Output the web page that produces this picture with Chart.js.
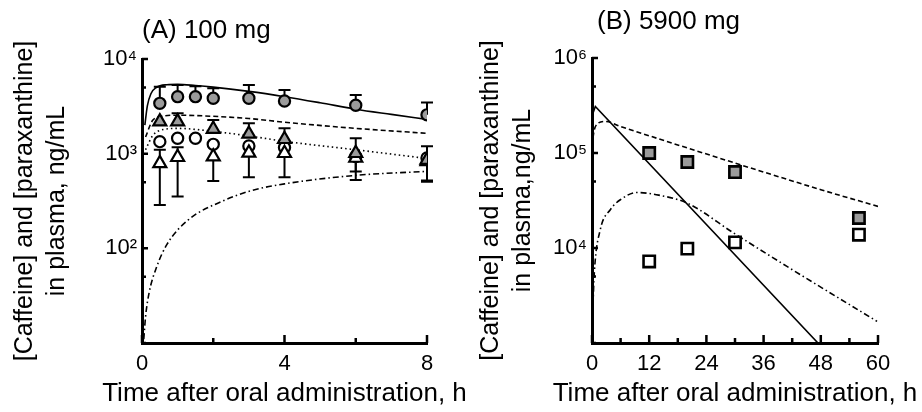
<!DOCTYPE html>
<html>
<head>
<meta charset="utf-8">
<script src="https://cdn.jsdelivr.net/npm/chart.js@4.4.0/dist/chart.umd.min.js"></script>
<style>
  html, body { margin: 0; padding: 0; background: #fff; }
  #wrap { position: relative; width: 922px; height: 412px; overflow: hidden; }
  .panel { position: absolute; top: 0; height: 412px; }
</style>
</head>
<body>
<div id="wrap">
  <div class="panel" style="left:0;width:490px"><canvas id="chartA" width="490" height="412"></canvas></div>
  <div class="panel" style="left:461px;width:461px"><canvas id="chartB" width="461" height="412"></canvas></div>
</div>
<script>
/* ============================================================
   Data - (A) 100 mg
   ============================================================ */
const timesA = [0.5, 1, 1.5, 2, 3, 4, 6, 8];

const grayCircA      = [3400, 4000, 4000, 3850, 3850, 3600, 3250, 2570];
const grayCircAHi    = [5100, 5300, 5150, 4900, 5300, 4700, 4170, 3470];
const openCircA      = [1340, 1455, 1455, 1255, 1205, 1165, 935, 900];
const openCircALo    = [null, null, null, null, null, null, 650, 520];
const grayTriA       = [2180, 2180, null, 1820, 1615, 1420, 1010, 857];
const grayTriAHi     = [null, 2670, null, 2270, 2090, 1850, 1455, 1200];
const openTriA       = [790, 916, null, 930, 1020, 1010, 900, 830];
const openTriAHi     = [1100, 1170, null, null, null, null, null, null];
const openTriALo     = [287, 352, null, 515, 563, 563, 527, 506];

// model curves
const solidAX   = [0.08, 0.15, 0.25, 0.4, 0.7, 1, 1.5, 2, 3, 4, 5, 6, 7, 8];
const solidAY   = [2000, 3200, 4300, 5000, 5350, 5400, 5250, 5050, 4550, 4000, 3450, 2950, 2600, 2300];
const dashAX    = [0.1, 0.3, 0.6, 1, 2, 3, 4, 6, 8];
const dashAY    = [1500, 2250, 2500, 2550, 2480, 2350, 2150, 1850, 1640];
const dotAX     = [0.1, 0.3, 0.6, 1, 2, 3, 4, 6, 8];
const dotAY     = [1100, 1550, 1800, 1850, 1720, 1540, 1350, 1100, 890];
const dashDotAX = [0.05, 0.1, 0.2, 0.4, 0.7, 1.3, 2.3, 3.1, 4, 6, 8];
const dashDotAY = [11, 19, 34, 62, 110, 200, 320, 410, 480, 590, 650];

const xTicksA  = [0, 2, 4, 6, 8];
const xLabelsA = [0, 4, 8];
const yTicksA  = [10, 50, 100, 500, 1000, 5000, 10000];
const yLabelsA = [100, 1000, 10000];

/* ============================================================
   Data - (B) 5900 mg
   ============================================================ */
const timesB   = [12, 20, 30, 56];
const graySqB  = [100000, 80400, 63000, 20700];
const openSqB  = [7220, 9840, 11460, 13800];

const solidBX   = [0.05, 0.7, 47.4];
const solidBY   = [250000, 309000, 1000];
const dashBX    = [0.05, 0.35, 1, 2.8, 6, 20, 48, 60];
const dashBY    = [120000, 162000, 200000, 215000, 190000, 113000, 41100, 27400];
const dashDotBX = [0.2, 0.48, 1.74, 3.84, 5.94, 9.44, 14, 19.9, 29.7, 40.9, 59.8];
const dashDotBY = [2500, 5450, 15600, 25300, 32200, 38400, 36000, 29800, 14400, 6400, 1690];

const xTicksB  = [0, 6, 12, 18, 24, 30, 36, 42, 48, 54, 60];
const xLabelsB = [0, 12, 24, 36, 48, 60];
const yTicksB  = [1000, 5000, 10000, 50000, 100000, 500000, 1000000];
const yLabelsB = [10000, 100000, 1000000];

/* ============================================================
   Helpers
   ============================================================ */
const FONT = "'Liberation Sans', Arial, Helvetica, sans-serif";
const GRAY = '#9b9b9b';
const SUP = { 1: '¹', 2: '²', 3: '³', 4: '⁴', 5: '⁵', 6: '⁶' };

function toPoints(xs, ys, hi, lo) {
    const pts = [];
    xs.forEach((x, i) => {
        if (ys[i] == null) return;
        pts.push({ x: x, y: ys[i], hi: hi ? hi[i] : null, lo: lo ? lo[i] : null });
    });
    return pts;
}

function powLabel(v) {
    return '10' + SUP[Math.round(Math.log10(v))];
}

// error bars drawn under the markers
const errorBars = {
    id: 'errorBars',
    beforeDatasetsDraw(chart) {
        const { ctx, scales: { x, y } } = chart;
        ctx.save();
        ctx.strokeStyle = '#000';
        ctx.lineWidth = 2;
        chart.data.datasets.forEach(ds => {
            ds.data.forEach(p => {
                if (p.hi == null && p.lo == null) return;
                const px = x.getPixelForValue(p.x);
                const py = y.getPixelForValue(p.y);
                [p.hi, p.lo].forEach(v => {
                    if (v == null) return;
                    const ey = y.getPixelForValue(v);
                    ctx.beginPath();
                    ctx.moveTo(px, py);
                    ctx.lineTo(px, ey);
                    ctx.moveTo(px - 6, ey);
                    ctx.lineTo(px + 6, ey);
                    ctx.stroke();
                });
            });
        });
        ctx.restore();
    }
};

// inward tick marks
const innerTicks = {
    id: 'innerTicks',
    afterDraw(chart, args, opts) {
        const { ctx, chartArea: a, scales: { x, y } } = chart;
        ctx.save();
        ctx.strokeStyle = '#000';
        ctx.lineWidth = 2.5;
        ctx.beginPath();
        x.ticks.forEach(t => {
            const px = x.getPixelForValue(t.value);
            const len = opts.xMajor.includes(t.value) ? 8 : 5;
            ctx.moveTo(px, a.bottom);
            ctx.lineTo(px, a.bottom - len);
        });
        y.ticks.forEach(t => {
            const py = y.getPixelForValue(t.value);
            const len = opts.yMajor.includes(t.value) ? 6 : 4;
            ctx.moveTo(a.left, py);
            ctx.lineTo(a.left + len, py);
        });
        ctx.stroke();
        ctx.restore();
    }
};

// panel heading and axis titles (drawn without width squeezing)
const panelText = {
    id: 'panelText',
    afterDraw(chart, args, opts) {
        const { ctx, chartArea: a } = chart;
        ctx.save();
        ctx.fillStyle = '#000';
        ctx.textBaseline = 'middle';

        ctx.textAlign = 'left';
        ctx.font = '26px ' + FONT;
        ctx.fillText(opts.title, a.left + opts.titleDx, opts.titleY);

        ctx.textAlign = 'center';
        ctx.font = '26px ' + FONT;
        ctx.fillText(opts.xTitle, (a.left + a.right) / 2, opts.xTitleY);

        ctx.font = '25px ' + FONT;
        const cy = (a.top + a.bottom) / 2;
        opts.yTitle.forEach((line, i) => {
            ctx.save();
            ctx.translate(opts.yTitleX[i], cy);
            ctx.rotate(-Math.PI / 2);
            ctx.fillText(line, 0, 0);
            ctx.restore();
        });
        ctx.restore();
    }
};

function markerSet(label, pts, style, fill, radius, bw) {
    return {
        type: 'scatter', label: label, data: pts,
        pointStyle: style, pointRadius: radius, pointHoverRadius: radius,
        backgroundColor: fill, borderColor: '#000', pointBorderWidth: bw,
        showLine: false
    };
}

function curveSet(label, pts, dash, width, tension) {
    return {
        type: 'line', label: label, data: pts,
        borderColor: '#000', borderWidth: width, borderDash: dash,
        pointRadius: 0, fill: false,
        tension: tension, cubicInterpolationMode: tension ? 'monotone' : 'default'
    };
}

function makeOptions(cfg) {
    return {
        responsive: false,
        animation: false,
        layout: { padding: { left: 0, top: cfg.top, right: cfg.right, bottom: 0 } },
        plugins: {
            legend: { display: false },
            tooltip: { enabled: false },
            panelText: {
                title: cfg.title, titleY: cfg.titleY, titleDx: cfg.titleDx,
                xTitle: 'Time after oral administration, h', xTitleY: 394,
                yTitle: cfg.yTitle, yTitleX: cfg.yTitleX
            },
            innerTicks: { xMajor: cfg.xLabels, yMajor: cfg.yLabels }
        },
        scales: {
            x: {
                type: 'linear', min: cfg.xMin, max: cfg.xMax,
                afterBuildTicks: s => { s.ticks = cfg.xTicks.map(v => ({ value: v })); },
                afterFit: s => { s.height = 69; },
                ticks: {
                    autoSkip: false, maxRotation: 0, padding: 8, color: '#000',
                    font: { family: FONT, size: 22 },
                    callback: v => cfg.xLabels.includes(v) ? String(v) : ''
                },
                grid: { display: true, drawOnChartArea: false, drawTicks: false },
                border: { display: true, color: '#000', width: 3 }
            },
            y: {
                type: 'logarithmic', min: cfg.yMin, max: cfg.yMax,
                afterBuildTicks: s => { s.ticks = cfg.yTicks.map(v => ({ value: v })); },
                afterFit: s => { s.width = cfg.yWidth; },
                ticks: {
                    autoSkip: false, padding: 5, color: '#000',
                    font: { family: FONT, size: 22 },
                    callback: v => cfg.yLabels.includes(v) ? powLabel(v) : ''
                },
                grid: { display: true, drawOnChartArea: false, drawTicks: false },
                border: { display: true, color: '#000', width: 3 }
            }
        }
    };
}

/* ============================================================
   (A) 100 mg
   ============================================================ */
new Chart(document.getElementById('chartA').getContext('2d'), {
    data: {
        datasets: [
            markerSet('Caffeine (obs)', toPoints(timesA, grayCircA, grayCircAHi, null), 'circle', GRAY, 5.6, 2.2),
            markerSet('Caffeine 2', toPoints(timesA, grayTriA, grayTriAHi, null), 'triangle', GRAY, 7.5, 2.2),
            markerSet('Paraxanthine 2', toPoints(timesA, openTriA, openTriAHi, openTriALo), 'triangle', '#fff', 7.5, 2.2),
            markerSet('Paraxanthine', toPoints(timesA, openCircA, null, openCircALo), 'circle', '#fff', 5.6, 2.2),
            curveSet('model 1', toPoints(solidAX, solidAY), [], 1.6, 0.4),
            curveSet('model 2', toPoints(dashAX, dashAY), [5, 3], 1.6, 0.4),
            curveSet('model 3', toPoints(dotAX, dotAY), [1.5, 3], 1.6, 0.4),
            curveSet('model 4', toPoints(dashDotAX, dashDotAY), [6, 3, 1.5, 3], 1.6, 0.4)
        ]
    },
    options: makeOptions({
        title: '(A) 100 mg', titleY: 31, titleDx: 0,
        top: 59, right: 63, yWidth: 142,
        xMin: 0, xMax: 8, xTicks: xTicksA, xLabels: xLabelsA,
        yMin: 10, yMax: 10000, yTicks: yTicksA, yLabels: yLabelsA,
        yTitle: ['[Caffeine] and [paraxanthine]', 'in plasma, ng/mL'], yTitleX: [25, 57]
    }),
    plugins: [errorBars, innerTicks, panelText]
});

/* ============================================================
   (B) 5900 mg
   ============================================================ */
new Chart(document.getElementById('chartB').getContext('2d'), {
    data: {
        datasets: [
            markerSet('Caffeine', toPoints(timesB, graySqB), 'rect', GRAY, 8, 2.6),
            markerSet('Paraxanthine', toPoints(timesB, openSqB), 'rect', '#fff', 8, 2.6),
            curveSet('model 1', toPoints(solidBX, solidBY), [], 1.6, 0),
            curveSet('model 2', toPoints(dashBX, dashBY), [5, 3], 1.6, 0.4),
            curveSet('model 3', toPoints(dashDotBX, dashDotBY), [6, 3, 1.5, 3], 1.6, 0.4)
        ]
    },
    options: makeOptions({
        title: '(B) 5900 mg', titleY: 22, titleDx: 5,
        top: 58, right: 44, yWidth: 131,
        xMin: 0, xMax: 60, xTicks: xTicksB, xLabels: xLabelsB,
        yMin: 1000, yMax: 1000000, yTicks: yTicksB, yLabels: yLabelsB,
        yTitle: ['[Caffeine] and [paraxanthine]', 'in plasma,ng/mL'], yTitleX: [30, 62]
    }),
    plugins: [errorBars, innerTicks, panelText]
});
</script>
</body>
</html>
